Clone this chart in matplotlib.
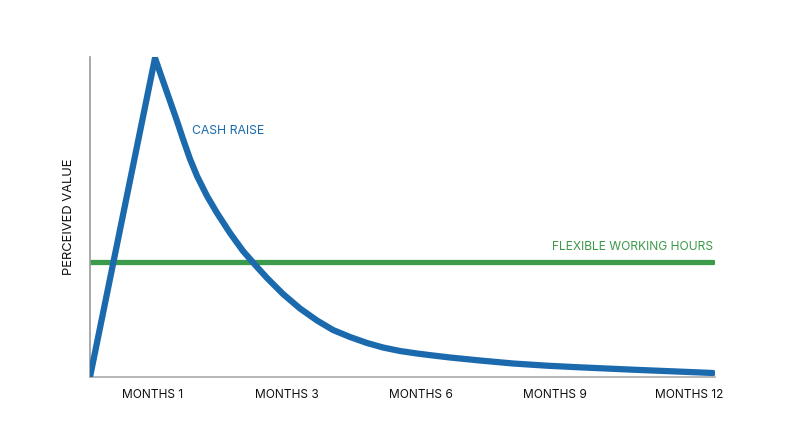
import matplotlib.pyplot as plt

plt.rcParams['font.family'] = ['Inter', 'DejaVu Sans']

# cash raise curve (arbitrary perceived-value units)
cash_x = [0, 65, 73, 80, 87, 93, 100, 107, 117, 127, 140, 153, 167, 177, 193,
          210, 227, 243, 260, 277, 293, 310, 327, 343, 360, 390, 423, 457, 487,
          543, 623]
cash_y = [0, 319, 296, 276, 256, 238, 218, 201, 181, 164, 144, 126, 110, 99, 83,
          68.5, 56.5, 47, 40, 34, 29.5, 26, 23.5, 21.5, 19.5, 16.5, 13.5, 11.3, 9.8,
          7.3, 4]

flex_x = [0, 623]
flex_y = [115, 115]

tick_pos = [63, 197, 331, 465, 599]
tick_labels = ["MONTHS 1", "MONTHS 3", "MONTHS 6", "MONTHS 9", "MONTHS 12"]

blue = '#1b6aad'
green = '#3c9a4b'

fig = plt.figure(figsize=(8, 4.47), dpi=100)
ax = fig.add_axes([0.1125, 0.1566, 0.7813, 0.7159])

ax.plot(flex_x, flex_y, color=green, lw=3.8, solid_capstyle='round', zorder=2)
ax.plot(cash_x, cash_y, color=blue, lw=4.5, solid_capstyle='round',
        solid_joinstyle='round', zorder=3)

ax.text(102, 246, "CASH RAISE", color=blue, fontsize=8.8, va='center', ha='left')
ax.text(623, 130, "FLEXIBLE WORKING HOURS", color=green, fontsize=8.7,
        va='center', ha='right')

ax.set_xlim(0, 625)
ax.set_ylim(0, 320)
ax.set_xticks(tick_pos)
ax.set_xticklabels(tick_labels, fontsize=8.6, color='#111111')
ax.set_yticks([])
ax.tick_params(axis='x', length=0, pad=9)
ax.set_ylabel("PERCEIVED VALUE", fontsize=9.3, color='#111111', labelpad=11)

for side in ['top', 'right']:
    ax.spines[side].set_visible(False)
ax.spines['left'].set_color('#999999')
ax.spines['left'].set_linewidth(1.2)
ax.spines['bottom'].set_color('#aaaaaa')
ax.spines['bottom'].set_linewidth(1.2)

fig.savefig("out.png", dpi=100)
